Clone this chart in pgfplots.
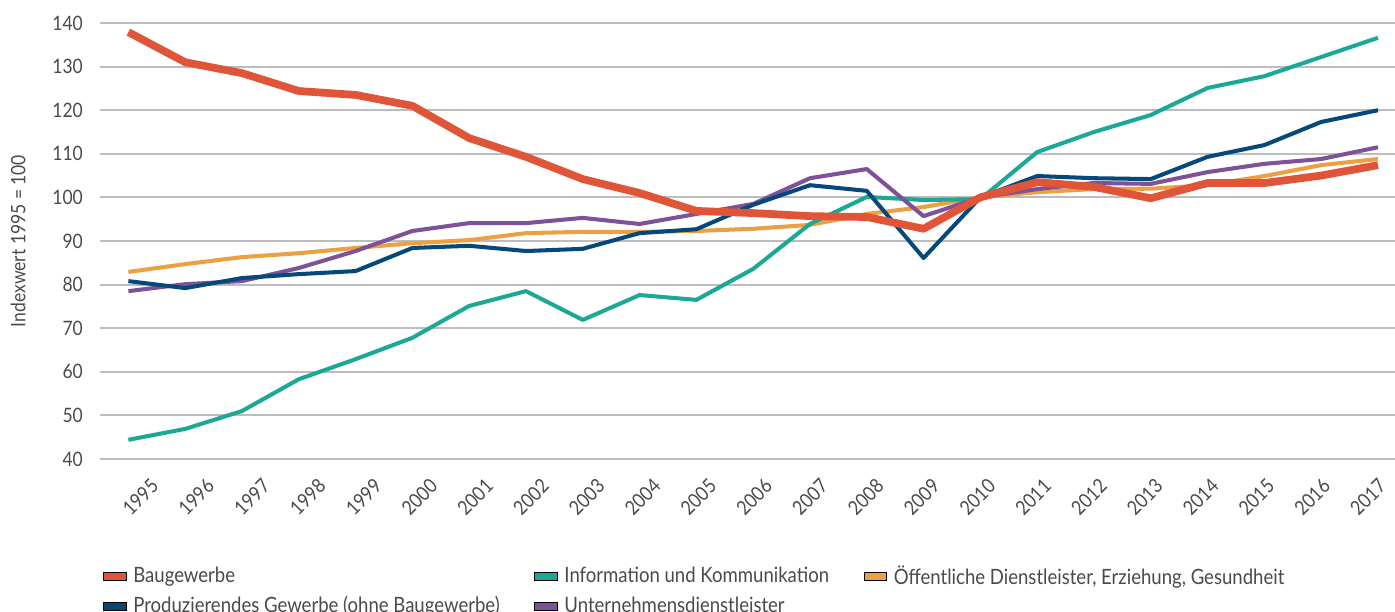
\documentclass[border=0pt]{standalone}
\usepackage{pgfplots}
\pgfplotsset{compat=1.18}
\usepackage{fontspec}
\setmainfont{Lato}[FakeStretch=0.88]

\definecolor{bau}{HTML}{E05437}
\definecolor{ikt}{HTML}{1BA895}
\definecolor{oeff}{HTML}{EBA044}
\definecolor{prod}{HTML}{05497A}
\definecolor{unt}{HTML}{7E5298}
\definecolor{gridgray}{HTML}{BDBDBD}
\definecolor{txt}{HTML}{4A4A4A}

\begin{document}
\begin{tikzpicture}
\begin{axis}[
  width=25.9cm, height=8.72cm, scale only axis,
  xmin=1994.5, xmax=2017.3,
  ymin=40, ymax=140,
  axis line style={draw=none},
  major tick style={draw=none},
  ymajorgrids,
  grid style={line width=1.1pt, gridgray},
  % year labels sit slightly off the data points, as in the original
  xtick={1995.211,1996.193,1997.176,1998.158,1999.141,2000.123,2001.105,
    2002.088,2003.070,2004.053,2005.035,2006.017,2007.000,2007.982,2008.965,
    2009.947,2010.929,2011.912,2012.894,2013.877,2014.859,2015.841,2016.824},
  xticklabels={1995,1996,1997,1998,1999,2000,2001,2002,2003,2004,2005,2006,
    2007,2008,2009,2010,2011,2012,2013,2014,2015,2016,2017},
  ytick={40,50,...,140},
  /pgf/number format/1000 sep={},
  /pgf/number format/assume math mode=true,
  tick label style={font=\fontsize{11.3}{13}\selectfont, txt},
  x tick label style={anchor=center, yshift=-0.76cm, rotate=45},
  y tick label style={xshift=-0.22cm},
  ylabel={Indexwert 1995 = 100},
  every axis y label/.style={at={(axis description cs:-0.0633,0.5)},
    rotate=90, anchor=center, font=\fontsize{11.3}{13}\selectfont, txt},
  legend columns=3,
  legend cell align=left,
  legend style={draw=none, at={(axis description cs:0,0)}, anchor=north west,
    yshift=-1.98cm, xshift=-0.05cm, font=\fontsize{12}{14}\selectfont, text=txt,
    /tikz/row sep=1.5pt,
    /tikz/every even column/.append style={column sep=0.62cm}},
  legend image code/.code={\fill[#1] (0pt,-2.3pt) rectangle (13pt,2.3pt);
    \path (14.8pt,0pt);},
]
\coordinate (bl) at (rel axis cs:0,0);
\coordinate (tr) at (rel axis cs:1,1);

\addlegendimage{fill=bau}
\addlegendentry{Baugewerbe}
\addlegendimage{fill=ikt}
\addlegendentry{Information und Kommunikation}
\addlegendimage{fill=oeff}
\addlegendentry{Öffentliche Dienstleister, Erziehung, Gesundheit}
\addlegendimage{fill=prod}
\addlegendentry{Produzierendes Gewerbe (ohne Baugewerbe)}
\addlegendimage{fill=unt}
\addlegendentry{Unternehmensdienstleister}

% Öffentliche Dienstleister, Erziehung, Gesundheit
\addplot[oeff, line width=2.3pt, line join=round, forget plot] coordinates {
  (1995,82.9) (1996,84.7) (1997,86.3) (1998,87.2) (1999,88.4) (2000,89.5)
  (2001,90.2) (2002,91.8) (2003,92.1) (2004,92.1) (2005,92.3) (2006,92.8)
  (2007,93.7) (2008,96.2) (2009,97.8) (2010,100) (2011,101.2) (2012,101.9)
  (2013,102.0) (2014,102.8) (2015,104.9) (2016,107.4) (2017,108.8)
};
% Information und Kommunikation
\addplot[ikt, line width=2.3pt, line join=round, forget plot] coordinates {
  (1995,44.4) (1996,46.9) (1997,51.0) (1998,58.3) (1999,62.9) (2000,67.8)
  (2001,75.1) (2002,78.5) (2003,71.9) (2004,77.6) (2005,76.5) (2006,83.6)
  (2007,93.9) (2008,100.1) (2009,99.4) (2010,99.6) (2011,110.4) (2012,115.0)
  (2013,118.9) (2014,125.1) (2015,127.8) (2016,132.2) (2017,136.6)
};
% Unternehmensdienstleister
\addplot[unt, line width=2.3pt, line join=round, forget plot] coordinates {
  (1995,78.5) (1996,80.1) (1997,80.8) (1998,83.8) (1999,87.7) (2000,92.3)
  (2001,94.1) (2002,94.1) (2003,95.3) (2004,93.9) (2005,96.2) (2006,98.5)
  (2007,104.4) (2008,106.5) (2009,95.7) (2010,100) (2011,101.9) (2012,103.3)
  (2013,103.1) (2014,105.8) (2015,107.7) (2016,108.8) (2017,111.5)
};
% Produzierendes Gewerbe (ohne Baugewerbe)
\addplot[prod, line width=2.3pt, line join=round, forget plot] coordinates {
  (1995,80.8) (1996,79.2) (1997,81.5) (1998,82.4) (1999,83.1) (2000,88.4)
  (2001,88.9) (2002,87.7) (2003,88.2) (2004,91.8) (2005,92.7) (2006,98.3)
  (2007,102.8) (2008,101.5) (2009,86.1) (2010,100) (2011,104.9) (2012,104.4)
  (2013,104.2) (2014,109.3) (2015,112.0) (2016,117.3) (2017,120.0)
};
% Baugewerbe
\addplot[bau, line width=4.4pt, line join=round, forget plot] coordinates {
  (1995,137.9) (1996,131.0) (1997,128.5) (1998,124.4) (1999,123.5) (2000,121.0)
  (2001,113.6) (2002,109.3) (2003,104.2) (2004,101.0) (2005,96.9) (2006,96.4)
  (2007,95.7) (2008,95.5) (2009,92.8) (2010,100) (2011,103.5) (2012,102.4)
  (2013,99.8) (2014,103.3) (2015,103.3) (2016,105.0) (2017,107.4)
};
\end{axis}
\pgfresetboundingbox
\path ([shift={(-2cm,-3.06cm)}]bl) rectangle ([shift={(0cm,0.46cm)}]tr);
\end{tikzpicture}
\end{document}
